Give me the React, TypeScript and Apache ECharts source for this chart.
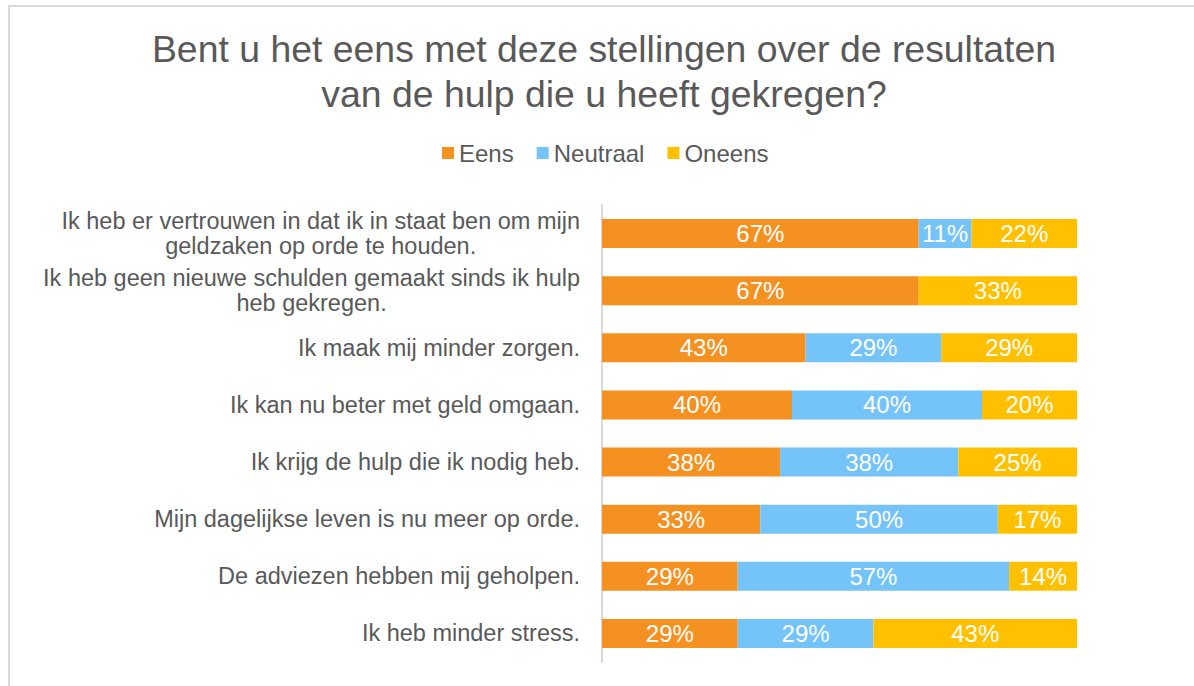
import React, { useEffect, useRef } from "react";
import * as echarts from "echarts";

const TITLE = "Bent u het eens met deze stellingen over de resultaten\nvan de hulp die u heeft gekregen?";

const categories = [
  "Ik heb er vertrouwen in dat ik in staat ben om mijn geldzaken op orde te houden.",
  "Ik heb geen nieuwe schulden gemaakt sinds ik hulp heb gekregen.",
  "Ik maak mij minder zorgen.",
  "Ik kan nu beter met geld omgaan.",
  "Ik krijg de hulp die ik nodig heb.",
  "Mijn dagelijkse leven is nu meer op orde.",
  "De adviezen hebben mij geholpen.",
  "Ik heb minder stress.",
];

const seriesNames = ["Eens", "Neutraal", "Oneens"];
const eens = [66.67, 66.67, 42.86, 40, 37.5, 33.33, 28.57, 28.57];
const neutraal = [11.11, 0, 28.57, 40, 37.5, 50, 57.14, 28.57];
const oneens = [22.22, 33.33, 28.57, 20, 25, 16.67, 14.29, 42.86];

const colors = ["#F59121", "#74C3F9", "#FFC000"];
const TEXT = "#595959";
const FONT = "'Liberation Sans', Arial, sans-serif";

function wrap(text: string, max: number): string[] {
  const words = text.split(" ");
  const lines: string[] = [];
  let cur = "";
  for (const w of words) {
    const next = cur ? cur + " " + w : w;
    if (next.length > max && cur) {
      lines.push(cur);
      cur = w;
    } else cur = next;
  }
  if (cur) lines.push(cur);
  return lines;
}

export default function App() {
  const ref = useRef<HTMLDivElement>(null);
  useEffect(() => {
    if (!ref.current) return;
    const chart = echarts.init(ref.current, undefined, { renderer: "svg" });
    const values = [eens, neutraal, oneens];
    chart.setOption({
      animation: false,
      backgroundColor: "#ffffff",
      textStyle: { fontFamily: FONT },
      title: {
        text: TITLE,
        left: 604,
        top: 26,
        padding: 0,
        textAlign: "center",
        textStyle: {
          fontFamily: FONT,
          fontSize: 37.4,
          fontWeight: "normal",
          color: TEXT,
          lineHeight: 45,
        },
      },
      legend: {
        data: seriesNames,
        left: 437,
        top: 136,
        itemWidth: 12,
        itemHeight: 12,
        itemGap: 23,
        icon: "rect",
        textStyle: { fontFamily: FONT, fontSize: 24, color: TEXT },
      },
      graphic: [
        {
          type: "rect",
          shape: { x: 9, y: 6, width: 1400, height: 900 },
          style: { fill: "none", stroke: "#d9d9d9", lineWidth: 2 },
          silent: true,
          z: 0,
        },
      ],
      grid: { left: 602, right: 117, top: 205, bottom: 24, containLabel: false },
      xAxis: {
        type: "value",
        min: 0,
        max: 100,
        show: false,
      },
      yAxis: {
        type: "category",
        inverse: true,
        data: categories,
        axisLine: { show: true, lineStyle: { color: "#d9d9d9", width: 2 } },
        axisTick: { show: false },
        axisLabel: {
          margin: 22,
          formatter: (v: string) =>
            wrap(v, 51)
              .map((l) => `{c|${l}}`)
              .join("\n"),
          rich: {
            c: {
              align: "center",
              fontFamily: FONT,
              fontSize: 23.5,
              color: TEXT,
              lineHeight: 25,
            },
          },
        },
      },
      series: seriesNames.map((name, i) => ({
        name,
        type: "bar",
        stack: "total",
        barWidth: 29,
        itemStyle: { color: colors[i] },
        label: {
          show: true,
          position: "inside",
          color: "#ffffff",
          fontFamily: FONT,
          fontSize: 24,
          formatter: (p: any) => (p.value > 0 ? Math.round(p.value) + "%" : ""),
        },
        data: values[i],
      })),
    });
    return () => chart.dispose();
  }, []);
  return (
    <div
      ref={ref}
      style={{ position: "absolute", left: 0, top: 0, width: 1194, height: 686 }}
    />
  );
}
